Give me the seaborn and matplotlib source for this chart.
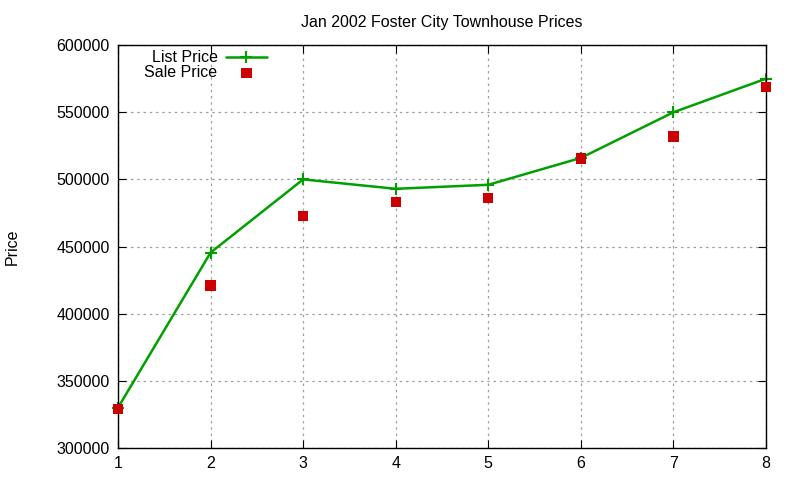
import matplotlib
matplotlib.use("Agg")
import matplotlib.pyplot as plt
import seaborn as sns
import pandas as pd

# values
months = [1, 2, 3, 4, 5, 6, 7, 8]
list_price = [330000, 445500, 500000, 493000, 496000, 516000, 550000, 575000]
sale_price = [329000, 421000, 473000, 483000, 486000, 515500, 532000, 569000]

df = pd.DataFrame({"x": months, "list": list_price, "sale": sale_price})

sns.set_style("ticks")
plt.rcParams['font.family'] = ['Liberation Sans', 'DejaVu Sans']
plt.rcParams['text.color'] = 'black'
plt.rcParams['axes.labelcolor'] = 'black'
plt.rcParams['xtick.color'] = 'black'
plt.rcParams['ytick.color'] = 'black'
fs = 11.5

fig = plt.figure(figsize=(8, 4.8), dpi=100)
ax = fig.add_axes([0.1475, 0.0667, 0.81, 0.8393])

sns.lineplot(data=df, x="x", y="list", ax=ax, color="#00a000", linewidth=1.8,
             marker="+", markersize=9, markeredgewidth=1.5, markeredgecolor="#00a000",
             label="List Price", clip_on=False)
sns.scatterplot(data=df, x="x", y="sale", ax=ax, color="#cc0000", marker="s",
                s=55, edgecolor="none", label="Sale Price", zorder=3, clip_on=False)

ax.set_xlim(1, 8)
ax.set_ylim(300000, 600000)
ax.set_xticks(months)
ax.set_yticks(range(300000, 600001, 50000))
ax.grid(True, color="#a0a0a0", linestyle=(0, (2, 3)), linewidth=0.9)
ax.tick_params(direction="in", top=True, right=True, length=6, labelsize=fs, pad=6)
for sp in ax.spines.values():
    sp.set_linewidth(1.0)
    sp.set_color("black")

ax.set_xlabel("")
ax.set_ylabel("Price", fontsize=fs)
ax.yaxis.set_label_coords(-0.151, 0.5)
ax.set_title("Jan 2002 Foster City Townhouse Prices", fontsize=fs, pad=13)

leg = ax.legend(loc="upper right", bbox_to_anchor=(0.24, 1.003), frameon=False,
                markerfirst=False, fontsize=fs, handlelength=2.6,
                labelspacing=0.0, borderaxespad=0.0, handletextpad=0.5)
for t in leg.get_texts():
    t.set_ha("right")

fig.savefig("out.png", dpi=100)
